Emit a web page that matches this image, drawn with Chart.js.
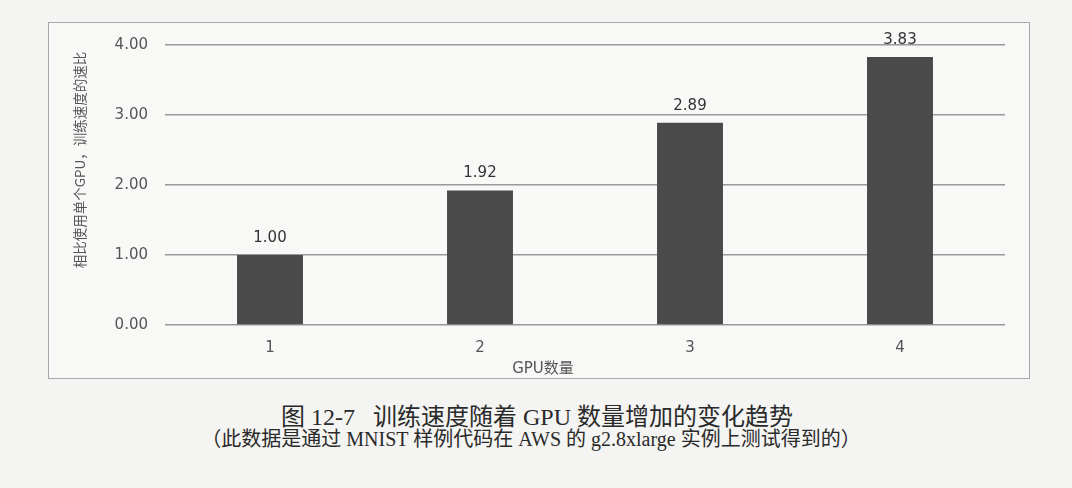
<!DOCTYPE html>
<html>
<head>
<meta charset="utf-8">
<script src="https://cdn.jsdelivr.net/npm/chart.js@4.4.0/dist/chart.umd.min.js"></script>
<style>
  html, body { margin: 0; padding: 0; }
  body { width: 1072px; height: 488px; background: #f4f4f2; position: relative; overflow: hidden; }
  #box { position: absolute; left: 48px; top: 22px; width: 982px; height: 357px; box-sizing: border-box;
         border: 1px solid #a8a8a8; background: #f8f8f7; }
  #box canvas { display: block; }
  .cap1 { position: absolute; left: 0; width: 1072px; top: 404px; text-align: center; padding-left: 2px; box-sizing: border-box;
          font-family: "Liberation Serif", "Noto Sans CJK SC", serif; font-size: 24px; line-height: 26px; color: #2a2a2a; }
  .cap2 { position: absolute; left: 0; width: 1072px; top: 428px; text-align: center; padding-right: 10px; box-sizing: border-box;
          font-family: "Liberation Serif", "Noto Sans CJK SC", serif; font-size: 20px; line-height: 22px; color: #2a2a2a; }
</style>
</head>
<body>
<div id="box"><canvas id="c"></canvas></div>
<div class="cap1">图 12-7&nbsp;&nbsp;&nbsp;训练速度随着 GPU 数量增加的变化趋势</div>
<div class="cap2">（此数据是通过 MNIST 样例代码在 AWS 的 g2.8xlarge 实例上测试得到的）</div>
<script>
const categories = ["1", "2", "3", "4"];
const speedup = [1.00, 1.92, 2.89, 3.83];
const valueLabels = ["1.00", "1.92", "2.89", "3.83"];
const yTickValues = [0, 1, 2, 3, 4];
const yTickLabels = ["0.00", "1.00", "2.00", "3.00", "4.00"];
const yTitle = "相比使用单个GPU，训练速度的速比";
const xTitle = "GPU数量";

const textPlugin = {
  id: 'textPlugin',
  afterDatasetsDraw(chart) {
    const ctx = chart.ctx;
    const area = chart.chartArea;
    ctx.save();
    // value labels
    const meta = chart.getDatasetMeta(0);
    ctx.font = '15px "DejaVu Sans", Verdana, sans-serif';
    ctx.fillStyle = '#333';
    ctx.textAlign = 'center';
    ctx.textBaseline = 'middle';
    meta.data.forEach((el, i) => {
      ctx.fillText(valueLabels[i], el.x, el.y - 17);
    });
    // x title
    ctx.font = '15px "DejaVu Sans", "Noto Sans CJK SC", sans-serif';
    ctx.fillStyle = '#555';
    ctx.fillText(xTitle, (area.left + area.right) / 2 - 42, area.bottom + 44);
    // y title
    ctx.translate(area.left - 85, area.top + 115);
    ctx.rotate(-Math.PI / 2);
    ctx.font = '13.5px "Noto Sans CJK SC", sans-serif';
    ctx.fillStyle = '#555';
    ctx.fillText(yTitle, 0, 0);
    ctx.restore();
  }
};

new Chart(document.getElementById('c'), {
  type: 'bar',
  data: {
    labels: categories,
    datasets: [{
      data: speedup,
      backgroundColor: '#4a4a4a',
      borderWidth: 0,
      barPercentage: 0.314,
      categoryPercentage: 1.0
    }]
  },
  options: {
    responsive: true,
    maintainAspectRatio: false,
    animation: false,
    devicePixelRatio: 1,
    layout: { padding: { top: 22, right: 24, left: 0, bottom: 0 } },
    plugins: { legend: { display: false }, tooltip: { enabled: false }, title: { display: false } },
    scales: {
      x: {
        grid: { display: false, drawTicks: false },
        border: { display: false },
        ticks: { color: '#555', font: { family: '"DejaVu Sans", Verdana, sans-serif', size: 15 }, padding: 14 },
        afterFit(scale) { scale.height = 53; scale.paddingLeft = 0; scale.paddingRight = 0; }
      },
      y: {
        min: 0, max: 4,
        afterBuildTicks(scale) { scale.ticks = yTickValues.map(v => ({ value: v })); },
        grid: { color: '#999', lineWidth: 1.5, drawTicks: false },
        border: { display: false },
        ticks: {
          color: '#555',
          font: { family: '"DejaVu Sans", Verdana, sans-serif', size: 15 },
          padding: 17,
          callback: (v) => yTickLabels[yTickValues.indexOf(v)]
        },
        afterFit(scale) { scale.width = 116; scale.paddingTop = 0; scale.paddingBottom = 0; }
      }
    }
  },
  plugins: [textPlugin]
});
</script>
</body>
</html>
